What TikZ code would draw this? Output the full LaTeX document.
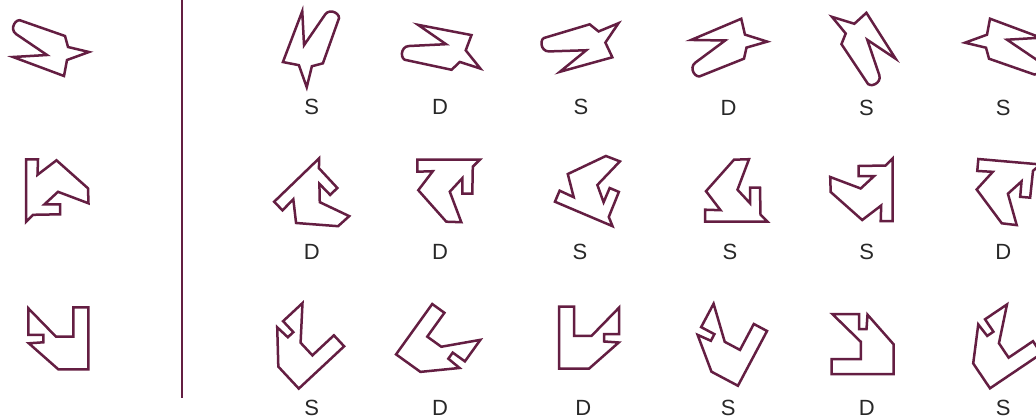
\documentclass[tikz,border=0pt]{standalone}
\usepackage{fontspec}
\setmainfont{Liberation Sans}
\definecolor{shapecol}{RGB}{100,30,66}
\definecolor{labelcol}{RGB}{40,40,40}
% base outlines, local pixel coordinates (y downwards), centred
\newcommand\pathA{(-38,2.5) -- (-4,0.5) -- (-35,-20.5) .. controls (-42,-25.5) and (-35,-37.5) .. (-29,-33.5) -- (14,-18.5) -- (17,-7.5) -- (38,-2.5) -- (16,5.5) -- (13,21.5) -- cycle}
\newcommand\pathB{(-31,-31) -- (-19,-31) -- (-19.5,-15.5) -- (-0.5,-30) -- (31,-2) -- (31.5,13) -- (1,1.5) -- (-12.5,14) -- (3,14) -- (3,24) -- (-24,24.5) -- (-31,31.5) -- cycle}
\newcommand\pathC{(-30,-30) -- (-2.3,-1.6) -- (15,-1.6) -- (15,-31) -- (30,-31) -- (30,31) -- (0,31) -- (-29.5,5) -- (-15,4) -- (-15,-3.5) -- (-30,-3.5) -- cycle}
\tikzset{
  shp/.style={draw=shapecol, line width=2.5pt, line join=miter},
  divider/.style={draw=shapecol, line width=2pt},
  lbl/.style={text=labelcol, font=\fontsize{22}{22}\selectfont, inner sep=0pt}
}
\begin{document}
\begin{tikzpicture}[x=1pt,y=-1pt]
\useasboundingbox (0,0) rectangle (1036,420);
\fill[white] (0,0) rectangle (1036,420);
\clip (0,0) rectangle (1036,420);
% divider
\coordinate (dtop) at (181.5,0);
\coordinate (dbot) at (181.5,398);
\draw[divider] (dtop) -- (dbot);
% ---- row 1 ----
\draw[shp, shift={(51,54.5)}] \pathA;
\draw[shp, shift={(304.5,49.2)}, rotate=-90.4] \pathA;
\draw[shp, shift={(449.2,46.7)}, rotate=148.7, xscale=-1] \pathA;
\draw[shp, shift={(589.2,47.5)}, rotate=35.9] \pathA;
\draw[shp, shift={(729.2,40.8)}, rotate=182.5, xscale=-1] \pathA;
\draw[shp, shift={(863.8,37.8)}, rotate=142.9] \pathA;
\draw[shp, shift={(1003,40.2)}, rotate=180] \pathA;
% ---- row 2 ----
\draw[shp, shift={(57,190.3)}] \pathB;
\draw[shp, shift={(318,202.5)}, rotate=134, xscale=-1] \pathB;
\draw[shp, shift={(448.3,190.7)}, rotate=90, xscale=-1] \pathB;
\draw[shp, shift={(595.6,185.3)}, rotate=67] \pathB;
\draw[shp, shift={(736,190.7)}, rotate=90] \pathB;
\draw[shp, shift={(861.7,190)}, rotate=180] \pathB;
\draw[shp, shift={(1006.5,192.6)}, rotate=85, xscale=-1] \pathB;
% ---- row 3 ----
\draw[shp, shift={(58.3,338.3)}] \pathC;
\draw[shp, shift={(301,345.5)}, rotate=-47] \pathC;
\draw[shp, shift={(438.5,346.7)}, rotate=-35.7, xscale=-1] \pathC;
\draw[shp, shift={(589.2,337.5)}, xscale=-1] \pathC;
\draw[shp, shift={(726,344.3)}, rotate=-28] \pathC;
\draw[shp, shift={(862.5,344.2)}, rotate=90, xscale=-1] \pathC;
\draw[shp, shift={(998.9,346.1)}, rotate=-56] \pathC;
% ---- labels ----
\node[lbl] (a1) at (311.7,107) {S};
\node[lbl] (a2) at (440,107) {D};
\node[lbl] (a3) at (581,107) {S};
\node[lbl] (a4) at (728.5,108) {D};
\node[lbl] (a5) at (866.5,108) {S};
\node[lbl] (a6) at (1003.3,108) {S};
\node[lbl] (b1) at (311.7,251.5) {D};
\node[lbl] (b2) at (440,251.5) {D};
\node[lbl] (b3) at (580,251.5) {S};
\node[lbl] (b4) at (730,251.5) {S};
\node[lbl] (b5) at (866.7,251.5) {S};
\node[lbl] (b6) at (1003.3,251.5) {D};
\node[lbl] (c1) at (311.7,407.5) {S};
\node[lbl] (c2) at (440,407.5) {D};
\node[lbl] (c3) at (583.3,407.5) {D};
\node[lbl] (c4) at (728.3,407.5) {S};
\node[lbl] (c5) at (866.7,407.5) {D};
\node[lbl] (c6) at (1003.3,407.5) {S};
\end{tikzpicture}
\end{document}
